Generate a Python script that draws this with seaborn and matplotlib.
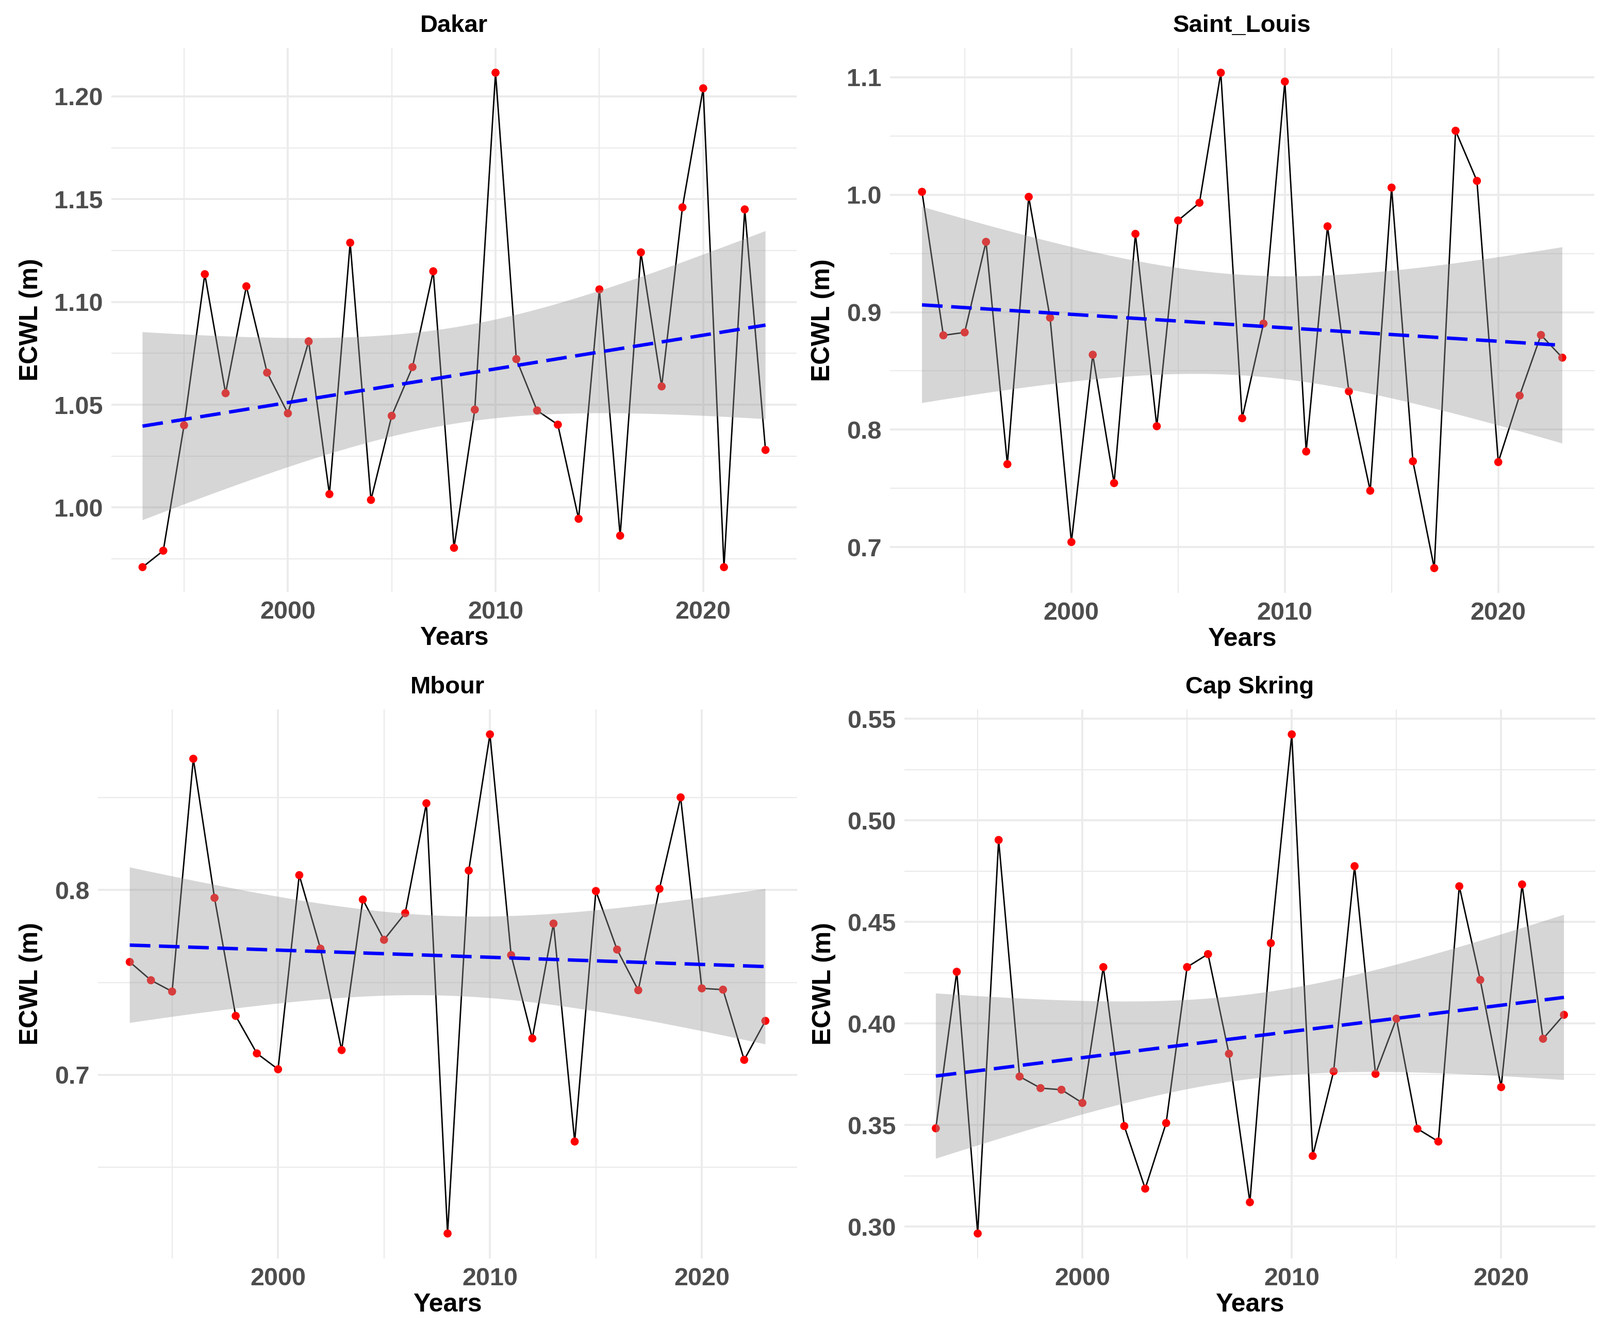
import numpy as np
import pandas as pd
import matplotlib
matplotlib.use("Agg")
import matplotlib.pyplot as plt
from matplotlib.ticker import MultipleLocator, FormatStrFormatter
import seaborn as sns

years = list(range(1993, 2024))

dakar = [0.971, 0.979, 1.040, 1.1135, 1.0556, 1.1076, 1.0656, 1.0458, 1.0808, 1.0065,
         1.1288, 1.0037, 1.0446, 1.0683, 1.1149, 0.9804, 1.0476, 1.2115, 1.0722, 1.0472,
         1.0403, 0.9945, 1.1061, 0.9863, 1.1241, 1.0589, 1.146, 1.2039, 0.971, 1.145, 1.028]

saint_louis = [1.0025, 0.8803, 0.8828, 0.9599, 0.7706, 0.9982, 0.8953, 0.7043, 0.8638, 0.7545,
               0.9667, 0.8029, 0.9781, 0.9932, 1.1039, 0.8097, 0.8903, 1.0964, 0.7814, 0.9731,
               0.8326, 0.748, 1.0061, 0.7731, 0.6821, 1.0545, 1.0118, 0.7724, 0.829, 0.8806, 0.8613]

mbour = [0.7611, 0.7512, 0.7451, 0.8711, 0.7958, 0.7319, 0.7116, 0.703, 0.8081, 0.7683,
         0.7134, 0.7949, 0.7731, 0.7875, 0.847, 0.6141, 0.8106, 0.8843, 0.7648, 0.7197,
         0.7819, 0.6639, 0.7995, 0.7678, 0.7458, 0.8007, 0.8502, 0.7468, 0.7461, 0.7081, 0.7292]

cap_skring = [0.3484, 0.4255, 0.2966, 0.4904, 0.3739, 0.3682, 0.3674, 0.3609, 0.4278, 0.3495,
              0.3187, 0.351, 0.4278, 0.4342, 0.3851, 0.312, 0.4396, 0.5424, 0.3348, 0.3765,
              0.4775, 0.3752, 0.4024, 0.3482, 0.3419, 0.4676, 0.4215, 0.3687, 0.4685, 0.3925, 0.4043]

stations = ["Dakar", "Saint_Louis", "Mbour", "Cap Skring"]
series = [dakar, saint_louis, mbour, cap_skring]

try:
    from scipy.stats import t as _t
    def tq(df):
        return _t.ppf(0.975, df)
except Exception:
    def tq(df):
        return 2.045  # t(0.975, 29)


def lm_band(x, y, grid):
    x = np.asarray(x, float)
    y = np.asarray(y, float)
    n = len(x)
    b, a = np.polyfit(x, y, 1)
    resid = y - (a + b * x)
    s = np.sqrt(np.sum(resid ** 2) / (n - 2))
    sxx = np.sum((x - x.mean()) ** 2)
    se = s * np.sqrt(1.0 / n + (grid - x.mean()) ** 2 / sxx)
    fit = a + b * grid
    q = tq(n - 2)
    return fit - q * se, fit + q * se


W, H = 3103, 2572
DPI = 200
sns.set_theme(style="white")
plt.rcParams["font.family"] = ["Liberation Sans", "DejaVu Sans"]

fig = plt.figure(figsize=(W / DPI, H / DPI), dpi=DPI)
fig.patch.set_facecolor("white")

# (left, right, top, bottom) in pixels
boxes = [(216, 1545, 93, 1148), (1726, 3092, 93, 1150),
         (190, 1546, 1376, 2441), (1754, 3094, 1376, 2441)]
major = [0.05, 0.1, 0.1, 0.05]
fmts = ["%.2f", "%.1f", "%.1f", "%.2f"]

for name, vals, box, mj, fm in zip(stations, series, boxes, major, fmts):
    l, r, t, b = box
    ax = fig.add_axes([l / W, 1 - b / H, (r - l) / W, (b - t) / H])
    df = pd.DataFrame({"Years": years, "ECWL": vals})
    sns.lineplot(data=df, x="Years", y="ECWL", ax=ax, color="black", lw=1.0, zorder=2)
    sns.scatterplot(data=df, x="Years", y="ECWL", ax=ax, color="red", s=32,
                    edgecolor="none", zorder=3)
    grid = np.linspace(min(years), max(years), 120)
    lo, hi = lm_band(years, vals, grid)
    ax.fill_between(grid, lo, hi, facecolor="#999999", alpha=0.4, edgecolor="none", zorder=4)
    sns.regplot(data=df, x="Years", y="ECWL", ax=ax, scatter=False, ci=None,
                color="blue", line_kws=dict(ls=(0, (6, 2.5)), lw=2.4, zorder=5))

    ymin, ymax = min(vals), max(vals)
    pad = 0.05 * (ymax - ymin)
    ax.set_ylim(ymin - pad, ymax + pad)
    ax.set_xlim(1991.5, 2024.5)

    ax.xaxis.set_major_locator(MultipleLocator(10))
    ax.xaxis.set_minor_locator(MultipleLocator(5))
    ax.yaxis.set_major_locator(MultipleLocator(mj))
    ax.yaxis.set_minor_locator(MultipleLocator(mj / 2))
    ax.yaxis.set_major_formatter(FormatStrFormatter(fm))

    ax.grid(which="major", color="#EBEBEB", lw=1.4, zorder=0)
    ax.grid(which="minor", color="#EBEBEB", lw=0.8, zorder=0)
    ax.set_axisbelow(True)
    for s in ax.spines.values():
        s.set_visible(False)
    ax.tick_params(which="both", length=0)
    ax.tick_params(axis="both", which="major", labelsize=17.5, labelcolor="#4D4D4D", pad=6)
    for lab in ax.get_xticklabels() + ax.get_yticklabels():
        lab.set_fontweight("bold")

    ax.set_title(name, fontsize=17, fontweight="bold", color="black", pad=11)
    ax.set_xlabel("Years", fontsize=18, fontweight="bold", color="black", labelpad=2)
    ax.set_ylabel("ECWL (m)", fontsize=18, fontweight="bold", color="black", labelpad=8)

fig.savefig("out.png", dpi=DPI, facecolor="white")
